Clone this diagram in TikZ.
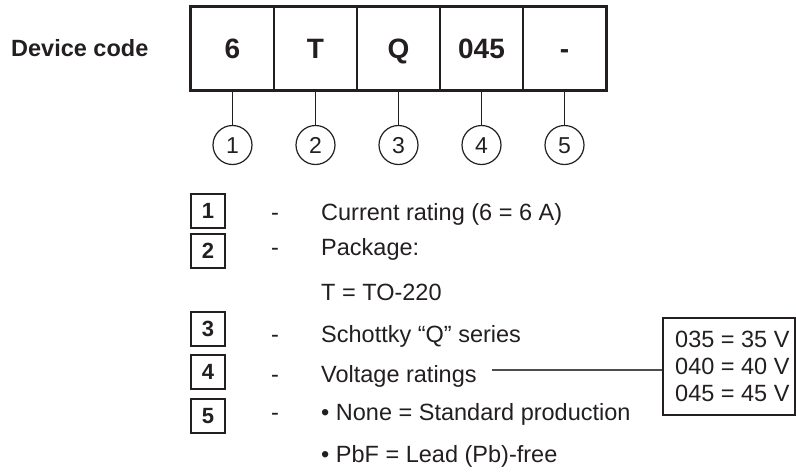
\documentclass[tikz,border=0pt]{standalone}
\usepackage{fontspec}
\usetikzlibrary{calc}
\setmainfont{Liberation Sans}
\definecolor{ink}{HTML}{231F20}
\definecolor{linegray}{HTML}{4D4D4D}
\begin{document}
\begin{tikzpicture}[x=1pt,y=-1pt,
  cell/.style={draw=ink, line width=2pt, minimum width=83pt, minimum height=83pt, inner sep=0pt,
    font=\fontsize{28}{28}\selectfont\bfseries, text height=20pt, text depth=0pt, text=ink},
  numcirc/.style={circle, draw=ink, line width=1.2pt, minimum size=39pt, inner sep=0pt,
    font=\fontsize{23}{23}\selectfont, text height=16.5pt, text depth=0pt, text=ink},
  stem/.style={draw=ink, line width=1.2pt},
  legbox/.style={draw=ink, line width=2pt, minimum width=34pt, minimum height=34pt, inner sep=0pt,
    font=\fontsize{22}{22}\selectfont\bfseries, text height=15.8pt, text depth=0pt, text=ink},
  legtext/.style={anchor=base west, inner sep=0pt, font=\fontsize{23.5}{23.5}\selectfont, text=ink},
  conn/.style={draw=linegray, line width=1.3pt}
]
\useasboundingbox (0,0) rectangle (796,474);

% title
\node[anchor=base west, inner sep=0pt, font=\fontsize{23.5}{23.5}\selectfont\bfseries, text=ink] (title) at (11,56) {Device code};

% code cells
\node[cell] (c1) at (232.5,48.5) {6};
\node[cell] (c2) at (315.5,48.5) {T};
\node[cell] (c3) at (398.5,48.5) {Q};
\node[cell] (c4) at (481.5,48.5) {045};
\node[cell] (c5) at (564.5,48.5) {-};
\draw[draw=ink, line width=2.8pt] (c1.north west) rectangle (c5.south east);

% numbered circles
\foreach \i in {1,...,5} {
  \node[numcirc] (n\i) at ($(c\i.center)+(0,96.5)$) {\i};
  \draw[stem] (c\i.south) -- (n\i.north);
}

% legend boxes
\node[legbox] (b1) at (208,211) {1};
\node[legbox] (b2) at (208,251) {2};
\node[legbox] (b3) at (208,329) {3};
\node[legbox] (b4) at (208,372) {4};
\node[legbox] (b5) at (208,415.5) {5};

% dashes
\node[legtext] (d1) at (271,220) {-};
\node[legtext] (d2) at (271,255) {-};
\node[legtext] (d3) at (271,342) {-};
\node[legtext] (d4) at (271,382) {-};
\node[legtext] (d5) at (271,420) {-};

% legend texts
\node[legtext] (t1) at (321,220) {Current rating (6 = 6 A)};
\node[legtext] (t2) at (321,255) {Package:};
\node[legtext] (t2b) at (321,300) {T = TO-220};
\node[legtext] (t3) at (321,342) {Schottky “Q” series};
\node[legtext] (t4) at (321,382) {Voltage ratings};
\node[legtext] (t5) at (321,420) {\textbullet\ None = Standard production};
\node[legtext] (t5b) at (321,462) {\textbullet\ PbF = Lead (Pb)-free};

% voltage box
\node[draw=ink, line width=1.5pt, minimum width=132pt, minimum height=97pt, inner sep=0pt] (vbox) at (729,366.5) {};
\node[legtext] (v1) at (675,347) {035 = 35 V};
\node[legtext] (v2) at (675,374) {040 = 40 V};
\node[legtext] (v3) at (675,401) {045 = 45 V};

\coordinate (vjoin) at (vbox.west |- 0,370);
\draw[conn] ([xshift=15pt]t4.east |- vjoin) -- (vjoin);
\end{tikzpicture}
\end{document}
